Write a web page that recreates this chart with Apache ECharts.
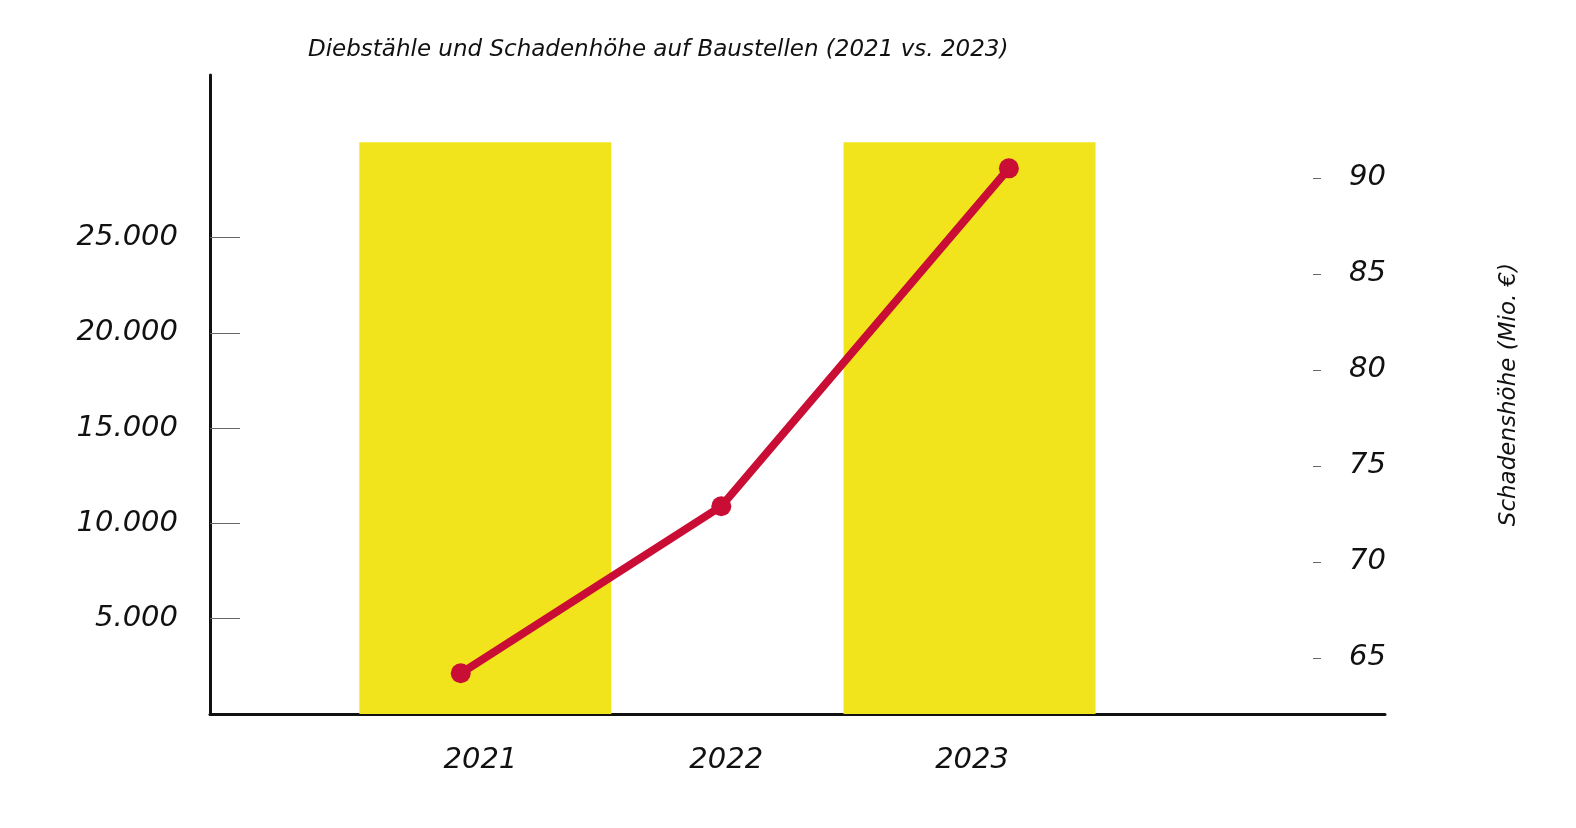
<!DOCTYPE html>
<html><head><meta charset="utf-8">
<script src="https://cdn.jsdelivr.net/npm/echarts@6/dist/echarts.min.js"></script>
<style>html,body{margin:0;background:#fff}#c{width:1576px;height:828px}</style>
</head><body><div id="c"></div>
<script>
const yearTicks = [2021, 2022, 2023];
const barYears = [2021.02, 2022.99];
const theftCounts = [30000, 30000];
const lineYears = [2020.92, 2021.98, 2023.15];
const damageMio = [64.2, 72.9, 90.5];
const leftTicks = [5000, 10000, 15000, 20000, 25000];
const rightTicks = [65, 70, 75, 80, 85, 90];

const font = 'DejaVu Sans';
const chart = echarts.init(document.getElementById('c'));
chart.setOption({
  animation: false,
  title: { text: 'Diebstähle und Schadenhöhe auf Baustellen (2021 vs. 2023)', left: 303, top: 34,
    textStyle: { fontFamily: font, fontStyle: 'italic', fontWeight: 'normal', fontSize: 23, color: '#111' } },
  grid: { left: 210, right: 191, top: 75, bottom: 114 },
  xAxis: { type: 'value', min: 2019.9, max: 2024.68,
    axisLine: { show: true, lineStyle: { color: '#111', width: 3 } },
    axisTick: { show: false }, splitLine: { show: false },
    axisLabel: { customValues: yearTicks, margin: 32, formatter: v => String(Math.round(v)),
      fontFamily: font, fontStyle: 'italic', fontWeight: 500, fontSize: 29, color: '#111' } },
  yAxis: [
    { type: 'value', min: 0, max: 33530,
      axisLine: { show: true, lineStyle: { color: '#111', width: 3 } },
      axisTick: { show: true, inside: true, length: 30, customValues: leftTicks, lineStyle: { color: '#666', width: 1 } },
      splitLine: { show: false },
      axisLabel: { customValues: leftTicks, margin: 32, formatter: v => v.toLocaleString('de-DE'),
        fontFamily: font, fontStyle: 'italic', fontSize: 29, color: '#111' } },
    { type: 'value', position: 'right', offset: -72, min: 62.08, max: 95.36,
      name: 'Schadenshöhe (Mio. €)', nameLocation: 'middle', nameGap: 185, nameRotate: 90,
      nameTextStyle: { fontFamily: font, fontStyle: 'italic', fontSize: 23, color: '#111' },
      axisLine: { show: false },
      axisTick: { show: true, length: 8, customValues: rightTicks, lineStyle: { color: '#666', width: 1 } },
      splitLine: { show: false },
      axisLabel: { customValues: rightTicks, margin: 36,
        fontFamily: font, fontStyle: 'italic', fontSize: 29, color: '#111' } }
  ],
  series: [
    { type: 'bar', yAxisIndex: 0, barWidth: 252, itemStyle: { color: '#f1e41c' },
      data: barYears.map((x, i) => [x, theftCounts[i]]) },
    { type: 'line', yAxisIndex: 1, symbol: 'circle', symbolSize: 20,
      lineStyle: { color: '#c90d35', width: 8 }, itemStyle: { color: '#c90d35' },
      data: lineYears.map((x, i) => [x, damageMio[i]]) }
  ]
});
</script></body></html>
